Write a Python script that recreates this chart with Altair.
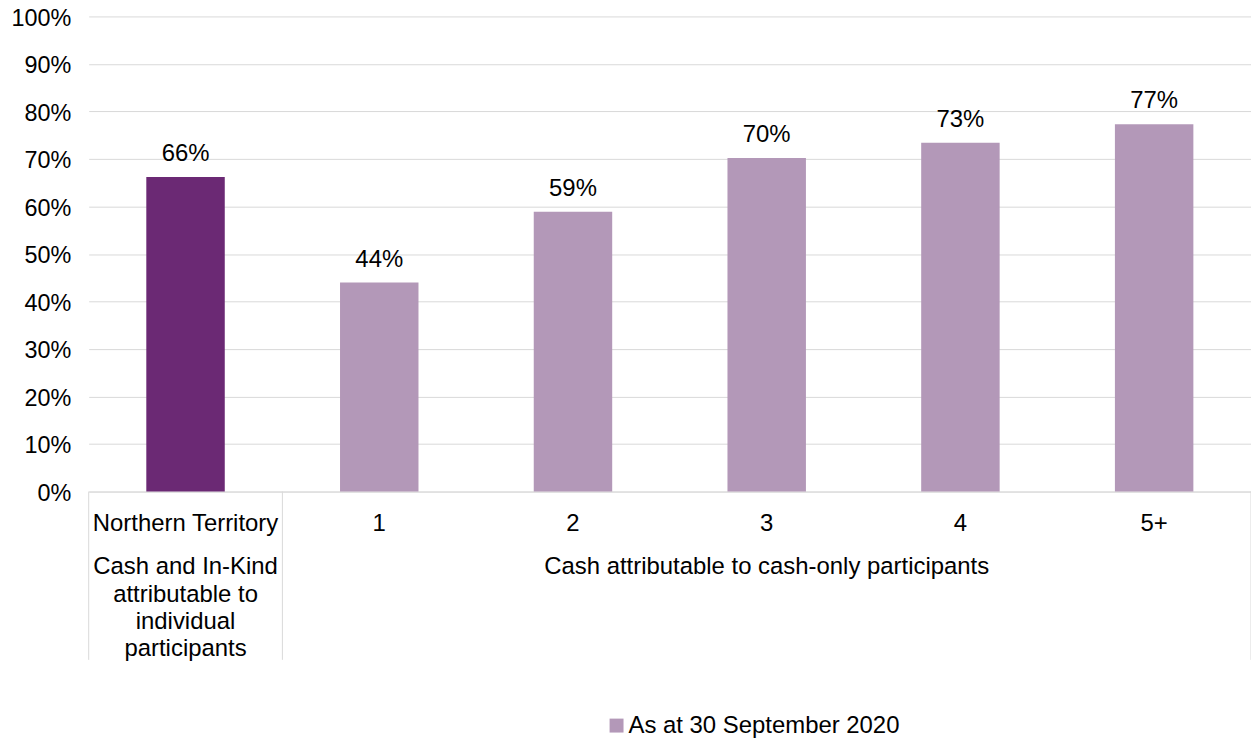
import altair as alt
import pandas as pd

categories = ["Northern Territory", "1", "2", "3", "4", "5+"]
values = [0.662, 0.440, 0.589, 0.702, 0.734, 0.773]
series_name = "As at 30 September 2020"
group_labels = ["Cash and In-Kind\nattributable to\nindividual\nparticipants",
                "Cash attributable to cash-only participants"]
group_anchor = ["Northern Territory", "3"]

DARK = "#6B2974"
LIGHT = "#B398B8"
GRID = "#D9D9D9"
FONT = "Liberation Sans"
FS = 24
W, H = 1167, 477

df = pd.DataFrame({"cat": categories, "value": values, "series": [series_name] * len(categories)})
grp = pd.DataFrame({"cat": group_anchor, "label": group_labels})

xscale = alt.Scale(domain=categories, paddingInner=0, paddingOuter=0)
yscale = alt.Scale(domain=[0, 1])

xaxis = alt.Axis(title=None, labels=False, ticks=False, domain=True,
                 domainColor=GRID, domainWidth=1, grid=False)
yaxis = alt.Axis(title=None, format=".0%", values=[i / 10 for i in range(11)],
                 grid=True, gridColor=GRID, gridWidth=1, domain=False, ticks=False,
                 labelFont=FONT, labelFontSize=23.5, labelColor="#000000",
                 labelPadding=18, labelOffset=2)


def X(**kw):
    return alt.X("cat:N", scale=xscale, sort=categories, axis=xaxis, **kw)


base = alt.Chart(df)

bars = base.mark_bar(width=alt.RelativeBandSize(0.405)).encode(
    x=X(),
    y=alt.Y("value:Q", scale=yscale, axis=yaxis),
    color=alt.condition(
        alt.datum.cat == "Northern Territory",
        alt.value(DARK),
        alt.Color("series:N", scale=alt.Scale(domain=[series_name], range=[LIGHT]),
                  legend=alt.Legend(title=None, orient="none", legendX=518, legendY=700,
                                    symbolType="square", symbolSize=196, symbolStrokeWidth=0,
                                    labelFont=FONT, labelFontSize=FS, labelColor="#000000",
                                    labelOffset=0, labelLimit=0, padding=0)),
    ),
)

value_labels = base.mark_text(font=FONT, fontSize=FS, color="#000000",
                              baseline="alphabetic", dy=-16).encode(
    x=X(),
    y=alt.Y("value:Q", scale=yscale, axis=yaxis),
    text=alt.Text("value:Q", format=".0%"),
)

cat_labels = base.mark_text(font=FONT, fontSize=FS, color="#000000",
                            baseline="middle").encode(
    x=X(),
    y=alt.value(H + 33),
    text="cat:N",
)

grp_text = alt.Chart(grp).mark_text(
    font=FONT, fontSize=FS, color="#000000", baseline="top", lineBreak="\n", lineHeight=27.5
).encode(
    x=X(),
    y=alt.value(H + 64),
    text="label:N",
)

sep_left = base.transform_filter(
    alt.FieldOneOfPredicate(field="cat", oneOf=["Northern Territory", "1"])
).mark_rule(color=GRID, strokeWidth=1).encode(
    x=X(bandPosition=0),
    y=alt.value(H),
    y2=alt.value(H + 169),
)

sep_right = base.transform_filter(alt.datum.cat == "5+").mark_rule(color=GRID, strokeWidth=1).encode(
    x=X(bandPosition=1),
    y=alt.value(H),
    y2=alt.value(H + 169),
)

chart = alt.layer(bars, value_labels, cat_labels, grp_text, sep_left, sep_right).properties(
    width=W, height=H,
    autosize=alt.AutoSizeParams(type="none"),
    padding={"left": 81, "top": 7, "right": 0, "bottom": 246},
).configure(
    background="white",
    view=alt.ViewConfig(stroke="transparent", strokeWidth=0),
)

chart.save("out.html", embed_options={"renderer": "svg", "actions": False})
